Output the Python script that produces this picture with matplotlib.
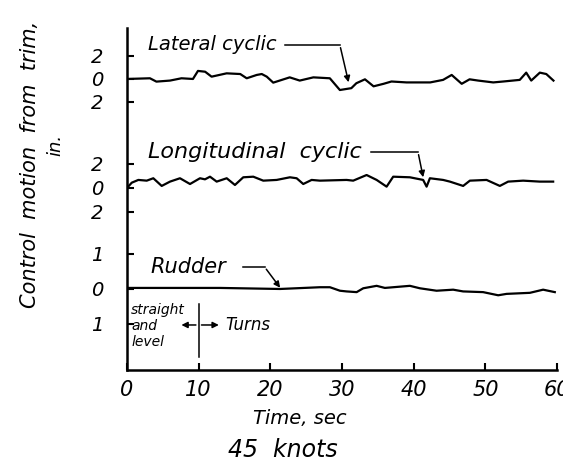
import numpy as np
import matplotlib.pyplot as plt

# Control motion from trim (in.), 45 knots
lat_t = [0, 3.2, 4.1, 6.0, 7.6, 9.2, 9.9, 10.9, 11.8, 13.9, 15.8, 16.7, 18.1, 18.8,
         19.5, 20.4, 21.3, 22.7, 24.1, 26.0, 28.3, 29.7, 31.3, 32.0, 33.2, 34.4,
         35.8, 36.9, 39.0, 42.3, 44.1, 45.3, 46.7, 47.8, 49.0, 51.1, 52.5, 54.8,
         55.7, 56.4, 57.6, 58.5, 59.5]
lat_v = [0, 0.06, -0.23, -0.14, 0.06, 0, 0.7, 0.63, 0.2, 0.49, 0.43, 0.06, 0.35, 0.43,
         0.2, -0.32, -0.14, 0.14, -0.14, 0.14, 0.06, -0.96, -0.8, -0.37, -0.03, -0.64,
         -0.42, -0.22, -0.3, -0.3, -0.08, 0.35, -0.42, -0.03, -0.14, -0.3, -0.22, -0.08,
         0.55, -0.14, 0.55, 0.43, -0.14]

lon_t = [0, 0.66, 1.58, 2.75, 3.67, 4.84, 6.0, 7.39, 8.79, 10.18, 10.88, 11.58, 12.51,
         13.91, 15.06, 16.22, 17.62, 19.01, 20.88, 22.73, 23.67, 24.59, 25.76, 26.92,
         30.64, 31.56, 33.43, 34.83, 36.22, 37.14, 39.47, 41.32, 41.8, 42.26, 44.11,
         45.05, 46.9, 47.84, 50.17, 52.02, 53.18, 55.27, 57.6, 59.46]
lon_v = [0, 0.44, 0.67, 0.61, 0.81, 0.17, 0.53, 0.81, 0.33, 0.81, 0.72, 0.94, 0.53,
         0.81, 0.25, 0.89, 0.94, 0.61, 0.67, 0.89, 0.81, 0.33, 0.67, 0.61, 0.67, 0.61,
         1.08, 0.67, 0.11, 0.94, 0.89, 0.67, 0.11, 0.81, 0.67, 0.53, 0.17, 0.61, 0.67,
         0.17, 0.53, 0.61, 0.53, 0.53]

rud_t = [0, 12.97, 21.34, 26.92, 28.31, 29.71, 30.64, 32.04, 32.96, 34.83, 35.98,
         39.47, 40.86, 43.19, 45.51, 46.9, 49.69, 51.79, 52.96, 56.21, 58.06, 59.69]
rud_v = [0.03, 0.03, 0, 0.05, 0.05, -0.05, -0.07, -0.09, 0.02, 0.09, 0.03, 0.09, 0.02,
         -0.05, -0.02, -0.07, -0.09, -0.18, -0.14, -0.11, -0.02, -0.09]

x_ticks = [0, 10, 20, 30, 40, 50, 60]
lat_ticks = [2, 0, -2]
lon_ticks = [2, 0, -2]
rud_ticks = [1, 0, -1]

# each trace gets its own strip: (zero level, units per inch) on a common axis
lat_zero, lat_scale = 291, 11.5
lon_zero, lon_scale = 182, 12
rud_zero, rud_scale = 81, 35

hand = dict(family='DejaVu Sans', style='italic', color='black')

fig = plt.figure(figsize=(5.63, 4.63), dpi=100)
ax = fig.add_axes([0.2256, 0.2009, 0.7638, 0.7387])

line_kw = dict(color='black', lw=1.6, solid_joinstyle='round')
ax.plot(lat_t, lat_zero + np.array(lat_v) * lat_scale, **line_kw)
ax.plot(lon_t, lon_zero + np.array(lon_v) * lon_scale, **line_kw)
ax.plot(rud_t, rud_zero + np.array(rud_v) * rud_scale, **line_kw)

ax.set_xlim(0, 60)
ax.set_ylim(0, 342)
for s in ['top', 'right']:
    ax.spines[s].set_visible(False)
for s in ['left', 'bottom']:
    ax.spines[s].set_linewidth(1.8)

yt = ([lat_zero + v * lat_scale for v in lat_ticks]
      + [lon_zero + v * lon_scale for v in lon_ticks]
      + [rud_zero + v * rud_scale for v in rud_ticks])
yl = [str(abs(v)) for v in lat_ticks + lon_ticks + rud_ticks]
ax.set_yticks(yt)
ax.set_yticklabels(yl, **hand, fontsize=14)
ax.set_xticks(x_ticks)
ax.set_xticklabels([str(v) for v in x_ticks], **hand, fontsize=15)
ax.tick_params(axis='y', direction='in', length=5, width=1.5, pad=17)
ax.tick_params(axis='x', direction='in', length=5, width=1.5, pad=7)

# labels with leader arrows
arrow = dict(arrowstyle='-|>', color='black', lw=1.1, mutation_scale=9)
ax.text(2.9, 325, 'Lateral cyclic', fontsize=14, va='center', **hand)
ax.plot([22.0, 29.7], [325, 325], color='black', lw=1.1)
ax.annotate('', xy=(31.0, 285), xytext=(29.7, 325), arrowprops=arrow)

ax.text(2.9, 218, 'Longitudinal  cyclic', fontsize=16, va='center', **hand)
ax.plot([34.0, 40.6], [218, 218], color='black', lw=1.1)
ax.annotate('', xy=(41.4, 190), xytext=(40.6, 218), arrowprops=arrow)

ax.text(3.2, 103, 'Rudder', fontsize=15, va='center', **hand)
ax.plot([16.2, 19.2], [103, 103], color='black', lw=1.1)
ax.annotate('', xy=(21.6, 80), xytext=(19.2, 103), arrowprops=arrow)

# straight and level / turns marker
ax.text(0.6, 60, 'straight', fontsize=10, va='center', **hand)
ax.text(0.6, 44, 'and', fontsize=10, va='center', **hand)
ax.text(0.6, 28, 'level', fontsize=10, va='center', **hand)
ax.plot([10, 10], [13, 66], color='black', lw=1.1)
ax.annotate('', xy=(7.2, 45), xytext=(10, 45), arrowprops=arrow)
ax.annotate('', xy=(13.2, 45), xytext=(10, 45), arrowprops=arrow)
ax.text(13.7, 45, 'Turns', fontsize=12, va='center', **hand)

fig.text(0.533, 0.097, 'Time, sec', ha='center', va='center', fontsize=14, **hand)
fig.text(0.503, 0.028, '45  knots', ha='center', va='center', fontsize=17, **hand)
fig.text(0.053, 0.644, 'Control  motion  from  trim,', rotation=90, ha='center',
         va='center', fontsize=15, **hand)
fig.text(0.098, 0.687, 'in.', rotation=90, ha='center', va='center', fontsize=13, **hand)

plt.savefig('out.png', dpi=100)
